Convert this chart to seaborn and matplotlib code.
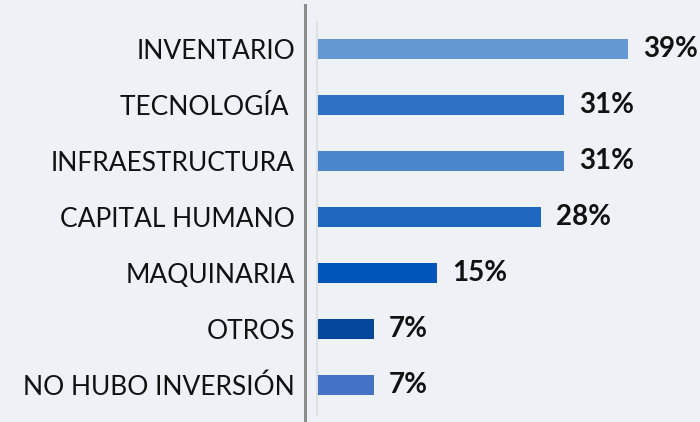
import seaborn as sns
import pandas as pd
import matplotlib.pyplot as plt
from matplotlib.lines import Line2D

categories = ['INVENTARIO', 'TECNOLOGÍA ', 'INFRAESTRUCTURA', 'CAPITAL HUMANO',
              'MAQUINARIA', 'OTROS', 'NO HUBO INVERSIÓN']
values = [39, 31, 31, 28, 15, 7, 7]
colors = ['#6398D3', '#2E72C6', '#4A86CB', '#1F68C0', '#0055B8', '#03479C', '#4472C4']

df = pd.DataFrame({'cat': categories, 'val': values})

bg = '#EEF2F6'
fig = plt.figure(figsize=(7, 4.22), dpi=100, facecolor=bg)
ax = fig.add_axes([318 / 700, 9 / 422, 382 / 700, 392 / 422])
ax.set_facecolor(bg)

sns.barplot(data=df, x='val', y='cat', hue='cat', palette=colors, legend=False,
            width=0.36, saturation=1, ax=ax)

for i, v in enumerate(values):
    ax.text(v + 1.9, i, f'{v}%', va='center', ha='left', fontsize=20,
            fontweight='bold', family='Lato', color='#111111')

ax.set_xlim(0, 48.05)
ax.set_ylim(6.5, -0.5)
ax.set_xlabel('')
ax.set_ylabel('')
ax.set_xticks([])
for s in ax.spines.values():
    s.set_visible(False)
ax.tick_params(axis='y', length=0, pad=16.5)
for t in ax.get_yticklabels():
    t.set_fontsize(19)
    t.set_family('Lato')
    t.set_color('#111111')

# axis lines
fig.add_artist(Line2D([304.5 / 700, 304.5 / 700], [0, 1 - 5 / 422],
                      color='#8C8C8C', lw=2.2))
fig.add_artist(Line2D([317 / 700, 317 / 700], [7 / 422, 1 - 22 / 422],
                      color='#DCDDE0', lw=1.2))

fig.savefig('out.png', dpi=100, facecolor=bg)
